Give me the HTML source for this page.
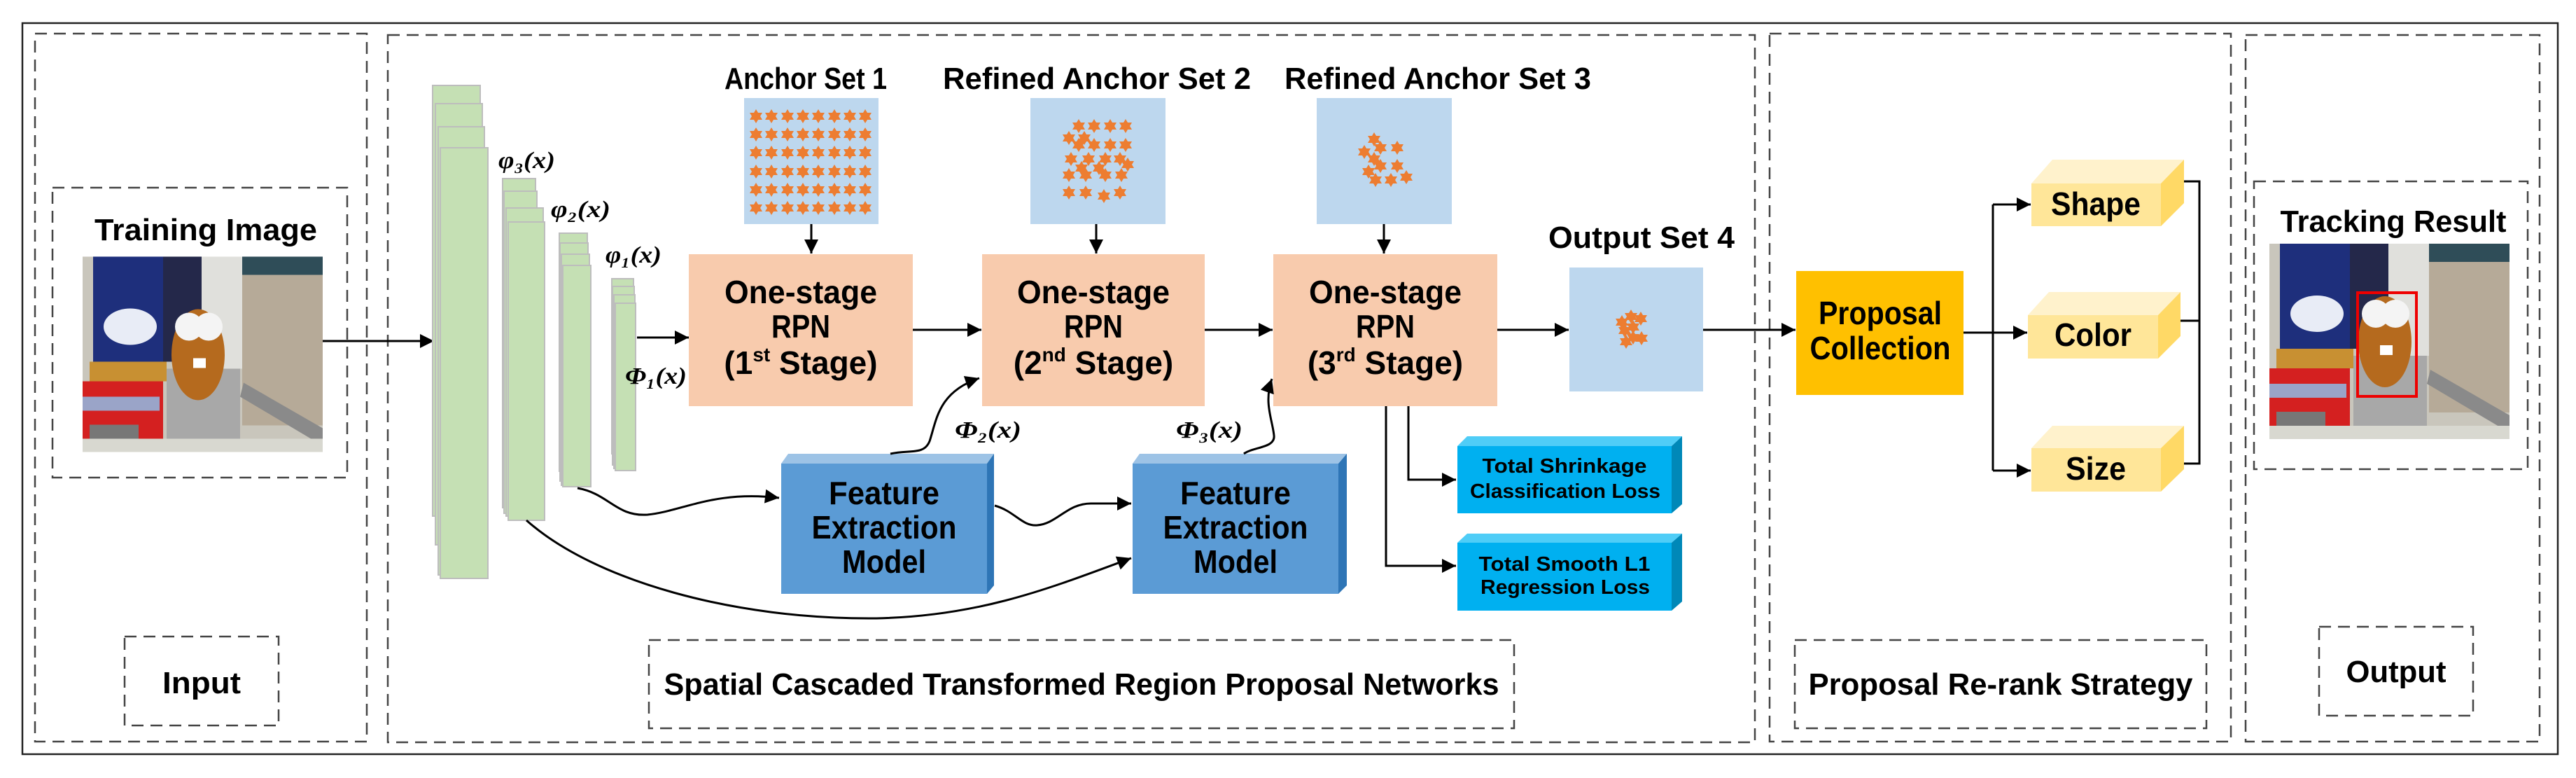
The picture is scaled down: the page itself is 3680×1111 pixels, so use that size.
<!DOCTYPE html>
<html><head><meta charset="utf-8"><style>
html,body{margin:0;padding:0;background:#fff;}
svg{display:block;}
text{font-family:"Liberation Sans","DejaVu Sans",sans-serif;font-weight:bold;fill:#000;}
.m{font-family:"Liberation Serif",serif;font-style:italic;font-weight:bold;}
</style></head><body>
<svg width="3680" height="1111" viewBox="0 0 3680 1111" xmlns="http://www.w3.org/2000/svg">
<defs>
<marker id="ar" viewBox="0 0 10 10" refX="10" refY="5" markerWidth="26" markerHeight="20" markerUnits="userSpaceOnUse" orient="auto">
<path d="M0,0 L10,5 L0,10 z" fill="#000"/></marker>
<symbol id="photo" viewBox="0 0 343 279">
<rect width="343" height="279" fill="#c9c6bc"/>
<rect x="150" y="0" width="80" height="160" fill="#e0e0dc"/>
<rect x="15" y="0" width="155" height="150" fill="#1e2f7c"/>
<rect x="115" y="0" width="55" height="150" fill="#24284a"/>
<ellipse cx="68" cy="100" rx="38" ry="26" fill="#e8ecf6"/>
<rect x="228" y="0" width="115" height="28" fill="#2f4d58"/>
<rect x="228" y="26" width="115" height="215" fill="#b6aa98"/>
<rect x="10" y="150" width="110" height="28" fill="#c89032"/>
<rect x="0" y="178" width="115" height="95" fill="#d42020"/>
<rect x="0" y="200" width="110" height="20" fill="#9aa4c8"/>
<rect x="10" y="240" width="70" height="39" fill="#777"/>
<rect x="120" y="160" width="105" height="119" fill="#a8a8a8"/>
<polygon points="230,180 343,245 343,270 225,200" fill="#8a8a8a"/>
<ellipse cx="165" cy="140" rx="38" ry="65" fill="#b56a1e"/>
<circle cx="152" cy="100" r="20" fill="#f4f4f4"/>
<circle cx="180" cy="100" r="20" fill="#f4f4f4"/>
<rect x="158" y="145" width="18" height="14" fill="#fff"/>
<rect x="0" y="260" width="343" height="19" fill="#d8d8d0"/>
</symbol>
<polygon id="st" points="0,-10 3,-5 9,-5 6,0 9,5 3,5 0,10 -3,5 -9,5 -6,0 -9,-5 -3,-5" fill="#ed7d31"/>
</defs>

<rect x="32" y="33" width="3622" height="1044" fill="none" stroke="#222" stroke-width="2.5"/>

<g fill="none" stroke="#444" stroke-width="2.5" stroke-dasharray="17 10">
<rect x="50" y="48" width="474" height="1011"/>
<rect x="554" y="50" width="1953" height="1010"/>
<rect x="2528" y="48" width="659" height="1011"/>
<rect x="3208" y="50" width="420" height="1009"/>
<rect x="75" y="268" width="421" height="414"/>
<rect x="178" y="909" width="220" height="127"/>
<rect x="927" y="914" width="1236" height="126"/>
<rect x="2564" y="914" width="588" height="126"/>
<rect x="3220" y="259" width="391" height="411"/>
<rect x="3313" y="895" width="220" height="127"/>
</g>

<text x="294" y="343" font-size="44" text-anchor="middle" textLength="318" lengthAdjust="spacingAndGlyphs">Training Image</text>
<text x="288" y="990" font-size="44" text-anchor="middle" textLength="112" lengthAdjust="spacingAndGlyphs">Input</text>
<text x="1545" y="992" font-size="44" text-anchor="middle" textLength="1193" lengthAdjust="spacingAndGlyphs">Spatial Cascaded Transformed Region Proposal Networks</text>
<text x="2858" y="992" font-size="44" text-anchor="middle" textLength="549" lengthAdjust="spacingAndGlyphs">Proposal Re-rank Strategy</text>
<text x="3423" y="974" font-size="44" text-anchor="middle" textLength="143" lengthAdjust="spacingAndGlyphs">Output</text>
<text x="3419" y="331" font-size="44" text-anchor="middle" textLength="323" lengthAdjust="spacingAndGlyphs">Tracking Result</text>

<use href="#photo" x="118" y="366" width="343" height="280"/>
<use href="#photo" x="3242" y="348" width="343" height="279"/>
<rect x="3368" y="418" width="84" height="148" fill="none" stroke="#e00" stroke-width="4"/>

<line x1="461" y1="487" x2="620" y2="487" stroke="#000" stroke-width="3" marker-end="url(#ar)"/>

<g fill="#c5e0b4" stroke="#bdbdbd" stroke-width="2">
<rect x="618" y="122" width="68" height="615"/>
<rect x="622" y="148" width="67" height="630"/>
<rect x="626" y="181" width="66" height="640"/>
<rect x="629" y="211" width="68" height="615"/>
<rect x="718" y="255" width="47" height="470"/>
<rect x="720" y="273" width="47" height="460"/>
<rect x="723" y="297" width="53" height="440"/>
<rect x="726" y="317" width="52" height="426"/>
<rect x="799" y="333" width="40" height="340"/>
<rect x="800" y="347" width="40" height="340"/>
<rect x="802" y="363" width="40" height="330"/>
<rect x="804" y="379" width="40" height="316"/>
<rect x="874" y="398" width="31" height="250"/>
<rect x="875" y="409" width="31" height="255"/>
<rect x="877" y="421" width="30" height="248"/>
<rect x="879" y="433" width="29" height="239"/>
</g>
<text class="m" x="712" y="240" font-size="34" textLength="81" lengthAdjust="spacingAndGlyphs">φ₃(x)</text>
<text class="m" x="787" y="310" font-size="34" textLength="85" lengthAdjust="spacingAndGlyphs">φ₂(x)</text>
<text class="m" x="865" y="375" font-size="34" textLength="80" lengthAdjust="spacingAndGlyphs">φ₁(x)</text>
<text class="m" x="893" y="548" font-size="34" textLength="88" lengthAdjust="spacingAndGlyphs">Φ₁(x)</text>
<text class="m" x="1364" y="625" font-size="34" textLength="95" lengthAdjust="spacingAndGlyphs">Φ₂(x)</text>
<text class="m" x="1680" y="625" font-size="34" textLength="95" lengthAdjust="spacingAndGlyphs">Φ₃(x)</text>

<line x1="910" y1="482" x2="984" y2="482" stroke="#000" stroke-width="3" marker-end="url(#ar)"/>

<text x="1151" y="127" font-size="44" text-anchor="middle" textLength="232" lengthAdjust="spacingAndGlyphs">Anchor Set 1</text>
<text x="1567" y="127" font-size="44" text-anchor="middle" textLength="440" lengthAdjust="spacingAndGlyphs">Refined Anchor Set 2</text>
<text x="2054" y="127" font-size="44" text-anchor="middle" textLength="438" lengthAdjust="spacingAndGlyphs">Refined Anchor Set 3</text>
<text x="2345" y="354" font-size="44" text-anchor="middle" textLength="266" lengthAdjust="spacingAndGlyphs">Output Set 4</text>

<g fill="#bdd7ee">
<rect x="1063" y="140" width="192" height="180"/>
<rect x="1472" y="140" width="193" height="180"/>
<rect x="1881" y="140" width="193" height="180"/>
<rect x="2242" y="382" width="191" height="177"/>
</g>
<g>
<use href="#st" x="1080" y="166"/><use href="#st" x="1102" y="166"/><use href="#st" x="1125" y="166"/><use href="#st" x="1147" y="166"/><use href="#st" x="1169" y="166"/><use href="#st" x="1192" y="166"/><use href="#st" x="1214" y="166"/><use href="#st" x="1236" y="166"/>
<use href="#st" x="1080" y="192"/><use href="#st" x="1102" y="192"/><use href="#st" x="1125" y="192"/><use href="#st" x="1147" y="192"/><use href="#st" x="1169" y="192"/><use href="#st" x="1192" y="192"/><use href="#st" x="1214" y="192"/><use href="#st" x="1236" y="192"/>
<use href="#st" x="1080" y="218"/><use href="#st" x="1102" y="218"/><use href="#st" x="1125" y="218"/><use href="#st" x="1147" y="218"/><use href="#st" x="1169" y="218"/><use href="#st" x="1192" y="218"/><use href="#st" x="1214" y="218"/><use href="#st" x="1236" y="218"/>
<use href="#st" x="1080" y="245"/><use href="#st" x="1102" y="245"/><use href="#st" x="1125" y="245"/><use href="#st" x="1147" y="245"/><use href="#st" x="1169" y="245"/><use href="#st" x="1192" y="245"/><use href="#st" x="1214" y="245"/><use href="#st" x="1236" y="245"/>
<use href="#st" x="1080" y="271"/><use href="#st" x="1102" y="271"/><use href="#st" x="1125" y="271"/><use href="#st" x="1147" y="271"/><use href="#st" x="1169" y="271"/><use href="#st" x="1192" y="271"/><use href="#st" x="1214" y="271"/><use href="#st" x="1236" y="271"/>
<use href="#st" x="1080" y="297"/><use href="#st" x="1102" y="297"/><use href="#st" x="1125" y="297"/><use href="#st" x="1147" y="297"/><use href="#st" x="1169" y="297"/><use href="#st" x="1192" y="297"/><use href="#st" x="1214" y="297"/><use href="#st" x="1236" y="297"/>
<use href="#st" x="1541" y="180"/><use href="#st" x="1563" y="180"/><use href="#st" x="1586" y="180"/><use href="#st" x="1608" y="180"/>
<use href="#st" x="1527" y="197"/><use href="#st" x="1549" y="197"/>
<use href="#st" x="1541" y="207"/><use href="#st" x="1563" y="207"/><use href="#st" x="1586" y="207"/><use href="#st" x="1608" y="207"/>
<use href="#st" x="1530" y="227"/><use href="#st" x="1555" y="227"/><use href="#st" x="1579" y="227"/><use href="#st" x="1600" y="227"/><use href="#st" x="1611" y="235"/>
<use href="#st" x="1545" y="240"/><use href="#st" x="1570" y="240"/>
<use href="#st" x="1527" y="250"/><use href="#st" x="1551" y="250"/><use href="#st" x="1579" y="250"/><use href="#st" x="1602" y="250"/>
<use href="#st" x="1527" y="275"/><use href="#st" x="1551" y="275"/><use href="#st" x="1577" y="280"/><use href="#st" x="1600" y="275"/>
<use href="#st" x="1963" y="199"/><use href="#st" x="1972" y="211"/><use href="#st" x="1996" y="211"/><use href="#st" x="1949" y="217"/><use href="#st" x="1963" y="227"/><use href="#st" x="1972" y="237"/><use href="#st" x="1996" y="237"/><use href="#st" x="1955" y="245"/><use href="#st" x="1965" y="257"/><use href="#st" x="1987" y="257"/><use href="#st" x="2009" y="253"/>
<use href="#st" x="2330" y="452"/><use href="#st" x="2344" y="455"/><use href="#st" x="2317" y="460"/><use href="#st" x="2321" y="472"/><use href="#st" x="2333" y="467"/><use href="#st" x="2345" y="483"/><use href="#st" x="2323" y="488"/><use href="#st" x="2333" y="482"/>
</g>

<g stroke="#000" stroke-width="3">
<line x1="1159" y1="320" x2="1159" y2="362" marker-end="url(#ar)"/>
<line x1="1566" y1="320" x2="1566" y2="362" marker-end="url(#ar)"/>
<line x1="1977" y1="320" x2="1977" y2="362" marker-end="url(#ar)"/>
</g>

<g fill="#f8cbad">
<rect x="984" y="363" width="320" height="217"/>
<rect x="1403" y="363" width="318" height="217"/>
<rect x="1819" y="363" width="320" height="217"/>
</g>
<g font-size="46" text-anchor="middle">
<text x="1144" y="433" textLength="218" lengthAdjust="spacingAndGlyphs">One-stage</text>
<text x="1144" y="482" textLength="84" lengthAdjust="spacingAndGlyphs">RPN</text>
<text x="1144" y="534">(1<tspan font-size="28" dy="-18">st</tspan><tspan dy="18"> Stage)</tspan></text>
<text x="1562" y="433" textLength="218" lengthAdjust="spacingAndGlyphs">One-stage</text>
<text x="1562" y="482" textLength="84" lengthAdjust="spacingAndGlyphs">RPN</text>
<text x="1562" y="534">(2<tspan font-size="28" dy="-18">nd</tspan><tspan dy="18"> Stage)</tspan></text>
<text x="1979" y="433" textLength="218" lengthAdjust="spacingAndGlyphs">One-stage</text>
<text x="1979" y="482" textLength="84" lengthAdjust="spacingAndGlyphs">RPN</text>
<text x="1979" y="534">(3<tspan font-size="28" dy="-18">rd</tspan><tspan dy="18">  Stage)</tspan></text>
</g>

<g stroke="#000" stroke-width="3">
<line x1="1304" y1="471" x2="1402" y2="471" marker-end="url(#ar)"/>
<line x1="1721" y1="471" x2="1818" y2="471" marker-end="url(#ar)"/>
<line x1="2139" y1="471" x2="2241" y2="471" marker-end="url(#ar)"/>
<line x1="2433" y1="471" x2="2565" y2="471" marker-end="url(#ar)"/>
</g>

<g>
<polygon points="1116,662 1126,648 1420,648 1410,662" fill="#9dc3e6"/>
<polygon points="1410,662 1420,648 1420,836 1410,848" fill="#2e75b6"/>
<rect x="1116" y="662" width="294" height="186" fill="#5b9bd5"/>
<polygon points="1618,662 1628,648 1924,648 1912,662" fill="#9dc3e6"/>
<polygon points="1912,662 1924,648 1924,836 1912,848" fill="#2e75b6"/>
<rect x="1618" y="662" width="294" height="186" fill="#5b9bd5"/>
</g>
<g font-size="46" text-anchor="middle">
<text x="1263" y="720" textLength="158" lengthAdjust="spacingAndGlyphs">Feature</text>
<text x="1263" y="769" textLength="207" lengthAdjust="spacingAndGlyphs">Extraction</text>
<text x="1263" y="818" textLength="120" lengthAdjust="spacingAndGlyphs">Model</text>
<text x="1765" y="720" textLength="158" lengthAdjust="spacingAndGlyphs">Feature</text>
<text x="1765" y="769" textLength="207" lengthAdjust="spacingAndGlyphs">Extraction</text>
<text x="1765" y="818" textLength="120" lengthAdjust="spacingAndGlyphs">Model</text>
</g>

<g fill="none" stroke="#000" stroke-width="3">
<path d="M825,697 C870,705 880,738 925,735 C975,730 1020,700 1113,711" marker-end="url(#ar)"/>
<path d="M752,743 C850,830 1050,885 1252,883 C1400,880 1500,840 1616,797" marker-end="url(#ar)"/>
<path d="M1421,722 C1450,730 1460,752 1482,750 C1510,748 1525,718 1560,719 C1580,719 1600,719 1616,719" marker-end="url(#ar)"/>
<path d="M1272,648 C1300,642 1320,650 1328,630 C1338,600 1340,560 1399,540" marker-end="url(#ar)"/>
<path d="M1777,648 C1790,638 1822,640 1820,622 C1818,600 1805,575 1817,541" marker-end="url(#ar)"/>
<path d="M1980,580 L1980,808 L2080,808" marker-end="url(#ar)"/>
<path d="M2012,580 L2012,685 L2080,685" marker-end="url(#ar)"/>
</g>

<g>
<polygon points="2082,637 2096,623 2403,623 2388,637" fill="#4fcdf7"/>
<polygon points="2388,637 2403,623 2403,720 2388,733" fill="#0088b8"/>
<rect x="2082" y="637" width="306" height="96" fill="#00b0f0"/>
<polygon points="2082,775 2096,762 2403,762 2388,775" fill="#4fcdf7"/>
<polygon points="2388,775 2403,762 2403,859 2388,872" fill="#0088b8"/>
<rect x="2082" y="775" width="306" height="97" fill="#00b0f0"/>
</g>
<g font-size="29" text-anchor="middle">
<text x="2235" y="675" textLength="235" lengthAdjust="spacingAndGlyphs">Total Shrinkage</text>
<text x="2236" y="711" textLength="272" lengthAdjust="spacingAndGlyphs">Classification Loss</text>
<text x="2235" y="815" textLength="245" lengthAdjust="spacingAndGlyphs">Total Smooth L1</text>
<text x="2236" y="848" textLength="242" lengthAdjust="spacingAndGlyphs">Regression Loss</text>
</g>

<rect x="2566" y="387" width="239" height="177" fill="#ffc000"/>
<text x="2686" y="463" font-size="46" text-anchor="middle" textLength="176" lengthAdjust="spacingAndGlyphs">Proposal</text>
<text x="2686" y="513" font-size="46" text-anchor="middle" textLength="201" lengthAdjust="spacingAndGlyphs">Collection</text>

<g fill="none" stroke="#000" stroke-width="3">
<line x1="2805" y1="475" x2="2896" y2="475" marker-end="url(#ar)"/>
<path d="M2847,292 L2847,672"/>
<line x1="2847" y1="292" x2="2901" y2="292" marker-end="url(#ar)"/>
<line x1="2847" y1="672" x2="2901" y2="672" marker-end="url(#ar)"/>
<path d="M3118,259 L3142,259 L3142,662 L3118,662 M3114,458 L3142,458"/>
</g>

<g>
<polygon points="2902,262 2932,228 3120,228 3087,262" fill="#fff2cc"/>
<polygon points="3087,262 3120,228 3120,290 3087,323" fill="#ffd966"/>
<rect x="2902" y="262" width="185" height="61" fill="#ffe699"/>
<polygon points="2897,450 2927,417 3115,417 3083,450" fill="#fff2cc"/>
<polygon points="3083,450 3115,417 3115,480 3083,512" fill="#ffd966"/>
<rect x="2897" y="450" width="186" height="62" fill="#ffe699"/>
<polygon points="2902,640 2932,608 3120,608 3087,640" fill="#fff2cc"/>
<polygon points="3087,640 3120,608 3120,670 3087,702" fill="#ffd966"/>
<rect x="2902" y="640" width="185" height="62" fill="#ffe699"/>
</g>
<g font-size="46" text-anchor="middle">
<text x="2994" y="307" textLength="128" lengthAdjust="spacingAndGlyphs">Shape</text>
<text x="2990" y="494" textLength="110" lengthAdjust="spacingAndGlyphs">Color</text>
<text x="2994" y="685" textLength="86" lengthAdjust="spacingAndGlyphs">Size</text>
</g>
</svg>
</body></html>
